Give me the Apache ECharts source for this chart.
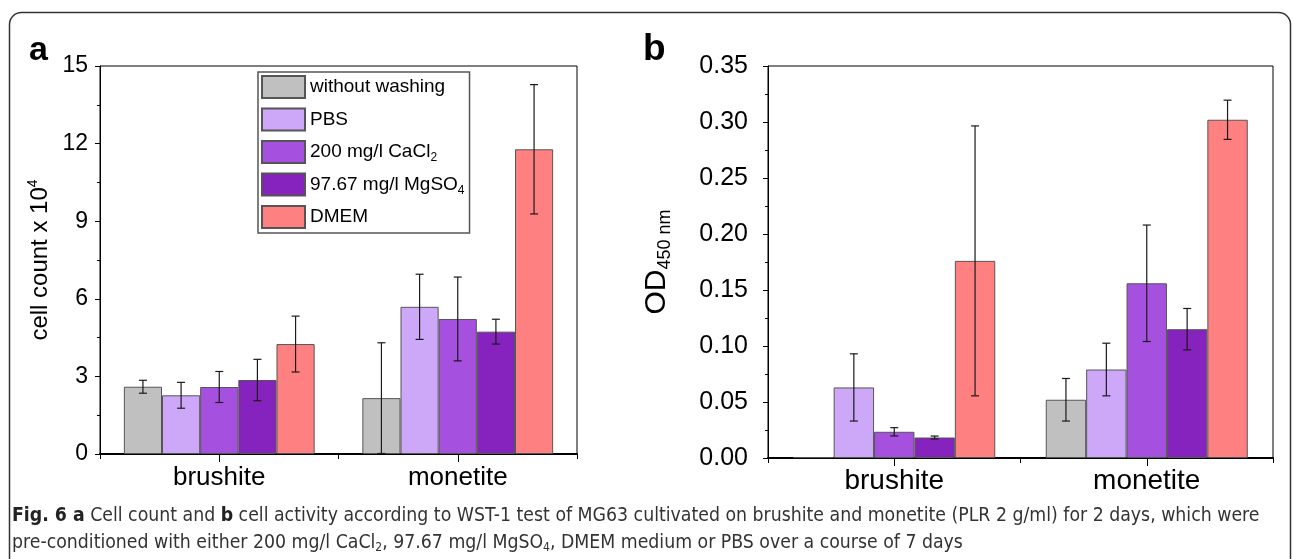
<!DOCTYPE html>
<html>
<head>
<meta charset="utf-8">
<script src="https://cdn.jsdelivr.net/npm/echarts@6/dist/echarts.min.js"></script>
<style>
  html, body { margin: 0; padding: 0; background: #fff; }
  #main { width: 1293px; height: 559px; }
</style>
</head>
<body>
<div id="main"></div>
<script>
// categories and series
var categories = ['brushite', 'monetite'];
var seriesNames = ['without washing', 'PBS', '200 mg/l CaCl2', '97.67 mg/l MgSO4', 'DMEM'];
var seriesLabels = ['without washing', 'PBS', '200 mg/l CaCl{sub|2}', '97.67 mg/l MgSO{sub|4}', 'DMEM'];
var colors = ['#c0c0c0', '#cda8f8', '#a650e0', '#8622bd', '#ff8080'];

// a: cell count x 10^4 (mean, sd) per series, [brushite, monetite]
var countMean = [[2.60, 2.16], [2.27, 5.69], [2.59, 5.22], [2.86, 4.73], [4.25, 11.78]];
var countErr = [[0.25, 2.14], [0.50, 1.26], [0.60, 1.62], [0.80, 0.48], [1.08, 2.50]];

// b: OD 450 nm (mean, sd)
var odMean = [[0.0008, 0.052], [0.063, 0.079], [0.0234, 0.156], [0.0183, 0.115], [0.176, 0.302]];
var odErr = [[0, 0.019], [0.030, 0.0235], [0.0037, 0.052], [0.0013, 0.0185], [0.1205, 0.0175]];

var countTicks = { min: 0, max: 15, interval: 3 };
var odTicks = { min: 0, max: 0.35, interval: 0.05 };

var FONT = '"Liberation Sans", Arial, sans-serif';
var CAP_FONT = '"Liberation Sans Narrow", "DejaVu Sans Condensed", sans-serif';
var chart = echarts.init(document.getElementById('main'));

function errData(mean, err) {
  var out = [];
  for (var s = 0; s < mean.length; s++) {
    for (var c = 0; c < categories.length; c++) {
      if (err[s][c] > 0) out.push([c, mean[s][c] - err[s][c], mean[s][c] + err[s][c], s]);
    }
  }
  return out;
}

function renderErr(params, api) {
  var cat = api.value(0);
  var lo = api.coord([cat, api.value(1)]);
  var hi = api.coord([cat, api.value(2)]);
  var w = api.size([1, 0])[0];
  var x = lo[0] + (api.value(3) - 2) * 0.16 * w;
  var cap = 4;
  var st = { stroke: '#1a1a1a', lineWidth: 1.2 };
  return {
    type: 'group',
    children: [
      { type: 'line', shape: { x1: x, y1: lo[1], x2: x, y2: hi[1] }, style: st },
      { type: 'line', shape: { x1: x - cap, y1: lo[1], x2: x + cap, y2: lo[1] }, style: st },
      { type: 'line', shape: { x1: x - cap, y1: hi[1], x2: x + cap, y2: hi[1] }, style: st }
    ]
  };
}

function xAxes(grid, fs, margin) {
  return [{
    type: 'category', gridIndex: grid, data: categories, position: 'bottom',
    axisLine: { lineStyle: { color: '#000', width: 2 } },
    axisTick: { show: true, length: 5, lineStyle: { color: '#000' } },
    axisLabel: { fontSize: fs, color: '#000', fontFamily: FONT, margin: margin, interval: 0 }
  }, {
    type: 'category', gridIndex: grid, data: categories, position: 'bottom',
    axisLine: { show: false },
    axisTick: { show: true, alignWithLabel: true, length: 8, lineStyle: { color: '#000' } },
    axisLabel: { show: false }
  }];
}

function yAxis(grid, t, name, gap, fs, margin, nfs, rfs, fmt) {
  return {
    type: 'value', gridIndex: grid, min: t.min, max: t.max, interval: t.interval,
    axisLine: { show: true, lineStyle: { color: '#000', width: 1 } },
    axisTick: { show: true, length: 5, lineStyle: { color: '#000' } },
    minorTick: { show: true, splitNumber: 2, length: 3, lineStyle: { color: '#000' } },
    splitLine: { show: false },
    axisLabel: { fontSize: fs, color: '#000', fontFamily: FONT, margin: margin, formatter: fmt },
    name: name, nameLocation: 'middle', nameRotate: 90, nameGap: gap,
    nameTextStyle: {
      fontSize: nfs, color: '#000', fontFamily: FONT, lineHeight: nfs + 4,
      rich: {
        sup: { fontSize: rfs, lineHeight: rfs, verticalAlign: 'top', fontFamily: FONT, color: '#000' },
        sub: { fontSize: rfs, lineHeight: rfs, verticalAlign: 'bottom', fontFamily: FONT, color: '#000' }
      }
    }
  };
}

var series = [];
for (var i = 0; i < seriesNames.length; i++) {
  var base = {
    type: 'bar', name: seriesNames[i], barGap: '0%', barCategoryGap: '20%',
    itemStyle: { color: colors[i], borderColor: '#555', borderWidth: 1 },
    emphasis: { disabled: true }
  };
  series.push(Object.assign({}, base, { xAxisIndex: 0, yAxisIndex: 0, data: countMean[i] }));
  series.push(Object.assign({}, base, { xAxisIndex: 2, yAxisIndex: 1, data: odMean[i] }));
}
series.push({
  type: 'custom', xAxisIndex: 0, yAxisIndex: 0, z: 5,
  renderItem: renderErr, data: errData(countMean, countErr), encode: { x: 0, y: [1, 2] }
});
series.push({
  type: 'custom', xAxisIndex: 2, yAxisIndex: 1, z: 5,
  renderItem: renderErr, data: errData(odMean, odErr), encode: { x: 0, y: [1, 2] }
});

var option = {
  animation: false,
  backgroundColor: '#fff',
  grid: [
    { left: 100, top: 66, width: 477, height: 388, show: true, borderColor: '#000', borderWidth: 1, backgroundColor: 'transparent' },
    { left: 768, top: 66, width: 505, height: 392, show: true, borderColor: '#000', borderWidth: 1, backgroundColor: 'transparent' }
  ],
  xAxis: xAxes(0, 26, 11).concat(xAxes(1, 28, 9)),
  yAxis: [
    yAxis(0, countTicks, 'cell count x 10{sup|4}', 46, 23, 12, 24, 14, function (v) { return String(v); }),
    yAxis(1, odTicks, 'OD{sub|450 nm}', 94, 25, 20, 30, 18, function (v) { return v.toFixed(2); })
  ],
  legend: {
    data: seriesNames, orient: 'vertical', left: 258, top: 72,
    itemWidth: 43, itemHeight: 22, itemGap: 8.5, icon: 'rect',
    padding: [3, 5, 4, 3], borderColor: '#555', borderWidth: 1.5, backgroundColor: '#fff',
    selectedMode: false,
    formatter: function (name) { return seriesLabels[seriesNames.indexOf(name)]; },
    textStyle: {
      fontSize: 19, color: '#000', fontFamily: FONT, lineHeight: 24,
      rich: { sub: { fontSize: 12, lineHeight: 12, verticalAlign: 'bottom', fontFamily: FONT, color: '#000' } }
    }
  },
  series: series,
  graphic: [
    { type: 'rect', silent: true, shape: { x: 9.5, y: 12.5, width: 1281, height: 620, r: 12 },
      style: { fill: 'none', stroke: '#333', lineWidth: 1.5 } },
    { type: 'text', left: 29, top: 34, style: { text: 'a', font: 'bold 34px ' + FONT, fill: '#000' } },
    { type: 'text', left: 643, top: 31, style: { text: 'b', font: 'bold 37px ' + FONT, fill: '#000' } },
    { type: 'text', left: 12, top: 506, style: {
        text: '{b|Fig. 6 a} Cell count and {b|b} cell activity according to WST-1 test of MG63 cultivated on brushite and monetite (PLR 2 g/ml) for 2 days, which were',
        fontSize: 19.3, fontFamily: CAP_FONT, fill: '#333',
        rich: { b: { fontWeight: 'bold', fontSize: 19.3, fontFamily: CAP_FONT, fill: '#222' } }
    } },
    { type: 'text', left: 12, top: 532, style: {
        text: 'pre-conditioned with either 200 mg/l CaCl{s|2}, 97.67 mg/l MgSO{s|4}, DMEM medium or PBS over a course of 7 days',
        fontSize: 19.3, fontFamily: CAP_FONT, fill: '#333', lineHeight: 22,
        rich: { s: { fontSize: 12, lineHeight: 12, verticalAlign: 'bottom', fontFamily: CAP_FONT, fill: '#333' } }
    } }
  ]
};
chart.setOption(option);
</script>
</body>
</html>
